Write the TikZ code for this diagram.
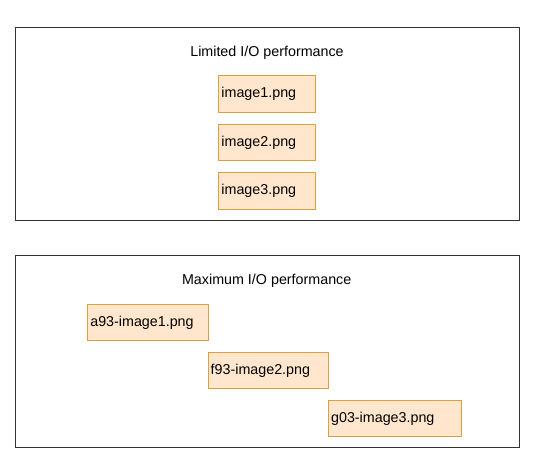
\documentclass[tikz,border=0pt]{standalone}
\usepackage{tikz}
\usetikzlibrary{positioning}
\usepackage{xcolor}
\usepackage{fontspec}
\setmainfont{Liberation Sans}
\definecolor{filefill}{HTML}{FFE6CC}
\definecolor{fileline}{HTML}{DDA040}
\tikzset{
  labelnode/.style = {inner sep=0pt, font=\fontsize{14.3}{16}\selectfont},
  group_n/.style = {draw=black!80, line width=1pt, minimum height=192pt,
    minimum width=504.3pt, inner sep=0pt},
  file_n/.style = {labelnode, draw=fileline, fill=filefill, line width=1pt,
    minimum height=36.5pt, inner xsep=2.5pt, align=left},
}

\begin{document}
\begin{tikzpicture}[x=1pt,y=-1pt]
  \useasboundingbox (0,0) rectangle (534,468);
  \node [group_n] (limited) at (267.2,124) {};
  \node [labelnode] (limtitle) at (267,53) {Limited I/O performance};
  \node [file_n, text width=91.7pt] (img1) at (267.3,94) {image1.png};
  \node [file_n, text width=91.7pt, below=10.9pt of img1] (img2) {image2.png};
  \node [file_n, text width=91.7pt, below=10.9pt of img2] (img3) {image3.png};

  \node [group_n] (maximum) at (267.2,351.8) {};
  \node [labelnode] (maxtitle) at (266.7,281) {Maximum I/O performance};
  \node [file_n, text width=115.4pt, anchor=north west] (a93) at (87.3,303.7)
      {a93-image1.png};
  \node [file_n, text width=115.4pt, below right=10.6pt and -1pt of a93] (f93)
      {f93-image2.png};
  \node [file_n, text width=127.7pt, below right=10.6pt and -1pt of f93] (g03)
      {g03-image3.png};
\end{tikzpicture}
\end{document}
